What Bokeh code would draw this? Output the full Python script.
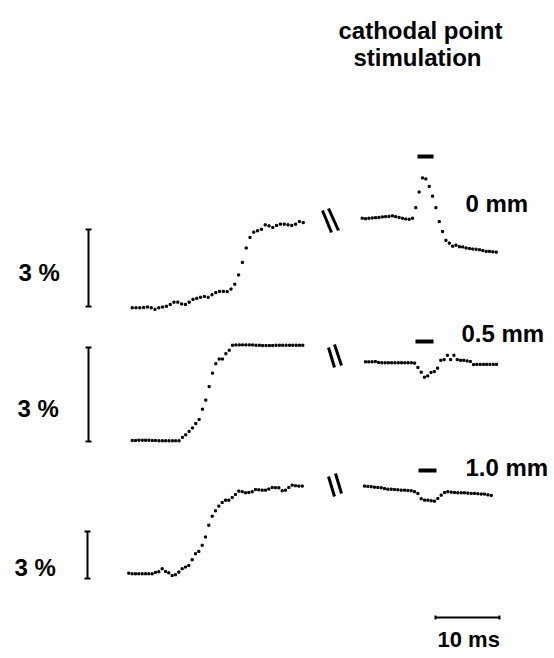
import numpy as np
from bokeh.plotting import figure
from bokeh.models import Range1d
from bokeh.core.properties import value
from bokeh.embed import file_html
from bokeh.resources import INLINE

# ---------------- data (percent change) ----------------
stim_labels = ["0 mm", "0.5 mm", "1.0 mm"]
scale_pct = 3.0          # each vertical scale bar = 3 %
time_bar_ms = 10.0       # horizontal scale bar = 10 ms

top_left = [0, 0, 0, 0.01, 0.03, 0, -0.06, 0, 0.03, 0.06, 0.13, 0.22, 0.22, 0.15, 0.13,
            0.22, 0.33, 0.37, 0.41, 0.44, 0.41, 0.51, 0.59, 0.64, 0.64, 0.63, 0.73, 0.92,
            1.28, 1.77, 2.33, 2.74, 2.95, 3.0, 3.06, 3.23, 3.19, 3.13, 3.21, 3.26, 3.26,
            3.23, 3.21, 3.26, 3.36, 3.32]
top_right = [3.49, 3.47, 3.49, 3.50, 3.51, 3.52, 3.54, 3.55, 3.56, 3.58, 3.55, 3.52, 3.49,
             3.46, 3.45, 3.49, 3.90, 4.51, 5.06, 5.02, 4.73, 4.35, 3.90, 3.36, 2.97, 2.63,
             2.52, 2.40, 2.44, 2.38, 2.37, 2.33, 2.31, 2.29, 2.28, 2.26, 2.23, 2.20, 2.20,
             2.18, 2.17]
mid_left = [0, 0, 0.01, 0.01, 0.01, 0.01, 0, 0, -0.01, -0.01, -0.01, -0.01, -0.01, -0.01,
            -0.01, 0.10, 0.18, 0.29, 0.40, 0.54, 0.67, 1.0, 1.29, 1.72, 2.15, 2.45, 2.60,
            2.60, 2.77, 2.88, 3.04, 3.05, 3.05, 3.05, 3.05, 3.05, 3.05, 3.04, 3.04, 3.03,
            3.03, 3.03, 3.03, 3.04, 3.04, 3.04, 3.04, 3.04, 3.04, 3.04, 3.04, 3.04]
mid_right = [2.51, 2.51, 2.51, 2.52, 2.49, 2.48, 2.48, 2.48, 2.48, 2.48, 2.48, 2.48, 2.48,
             2.48, 2.48, 2.47, 2.33, 2.18, 2.02, 2.06, 2.17, 2.20, 2.31, 2.56, 2.58, 2.72,
             2.58, 2.72, 2.58, 2.56, 2.56, 2.54, 2.52, 2.42, 2.43, 2.43, 2.43, 2.43, 2.43,
             2.43, 2.43]
bot_left = [0.04, 0, 0, 0, 0, 0, 0, 0, 0.09, 0.13, 0.32, 0.15, 0.06, -0.11, -0.06, 0.11,
            0.32, 0.43, 0.53, 0.90, 1.28, 1.43, 1.82, 2.35, 3.10, 3.68, 4.02, 4.32, 4.55,
            4.70, 4.70, 4.87, 5.06, 5.28, 5.24, 5.17, 5.19, 5.24, 5.38, 5.36, 5.34, 5.34,
            5.41, 5.51, 5.49, 5.49, 5.30, 5.34, 5.51, 5.66, 5.62, 5.60, 5.60]
bot_right = [5.60, 5.58, 5.56, 5.53, 5.51, 5.49, 5.44, 5.40, 5.40, 5.38, 5.36, 5.34, 5.34,
             5.32, 5.30, 5.24, 5.13, 4.79, 4.70, 4.70, 4.66, 4.64, 4.81, 5.02, 5.19, 5.24,
             5.21, 5.19, 5.17, 5.17, 5.17, 5.15, 5.13, 5.13, 5.11, 5.09, 5.09, 5.04, 5.00]

# ---------------- layout (screen-pixel coordinates) ----------------
PX_PER_MS = 6.4
rows = [
    dict(left=top_left, right=top_right, base=307.3, bar_px=77, bar_bottom=306, bar_x=88,
         lx=(131.7, 302.7), rx=(361.7, 495.7), label_xy=(18, 272), stim=(417, 433, 156),
         mm_xy=(465, 203), brk=[(322, 210, 331, 232), (328, 208, 338, 230)]),
    dict(left=mid_left, right=mid_right, base=440.0, bar_px=94, bar_bottom=441, bar_x=88,
         lx=(131.7, 302.3), rx=(365.0, 496.0), label_xy=(17, 408), stim=(415, 433, 341),
         mm_xy=(461, 333), brk=[(328, 347, 334, 367), (334, 344, 341, 365)]),
    dict(left=bot_left, right=bot_right, base=573.3, bar_px=47, bar_bottom=578, bar_x=87,
         lx=(128.3, 301.7), rx=(364.0, 490.7), label_xy=(14, 567), stim=(418, 436, 470),
         mm_xy=(465, 467), brk=[(328, 476, 334, 496), (335, 473, 341, 493)]),
]

FONT = value("Liberation Sans")

p = figure(width=554, height=658, x_range=Range1d(0, 554), y_range=Range1d(658, 0),
           output_backend="svg", toolbar_location=None, min_border=0,
           x_axis_location=None, y_axis_location=None)
p.grid.visible = False
p.outline_line_color = None
p.background_fill_color = "white"
p.border_fill_color = "white"

for r, lab in zip(rows, stim_labels):
    gain = r["bar_px"] / scale_pct
    for key, xr in (("left", r["lx"]), ("right", r["rx"])):
        vals = np.array(r[key], dtype=float)
        xs = np.linspace(xr[0], xr[1], len(vals))
        ys = r["base"] - vals * gain
        p.scatter(xs, ys, marker="square", size=2.1, color="black")
    # vertical scale bar (3 %)
    bx, bb = r["bar_x"], r["bar_bottom"]
    bt = bb - scale_pct * gain
    p.segment(x0=[bx], y0=[bb], x1=[bx], y1=[bt], line_width=2, color="black")
    p.segment(x0=[bx - 3, bx - 3], y0=[bb, bt], x1=[bx + 3, bx + 3], y1=[bb, bt],
              line_width=2, color="black")
    p.text(x=[r["label_xy"][0]], y=[r["label_xy"][1]], text=["3 %"], text_font=FONT,
           text_font_style="bold", text_font_size="24px", text_baseline="alphabetic",
           text_color="black")
    # stimulus bar
    s0, s1, sy = r["stim"]
    p.segment(x0=[s0], y0=[sy], x1=[s1], y1=[sy], line_width=4, color="black")
    # distance label
    p.text(x=[r["mm_xy"][0]], y=[r["mm_xy"][1]], text=[lab], text_font=FONT,
           text_font_style="bold", text_font_size="24px", text_baseline="alphabetic",
           text_color="black")
    # axis break marks
    for (a, b, c, d) in r["brk"]:
        p.segment(x0=[a], y0=[b], x1=[c], y1=[d], line_width=3, color="black")

# title
p.text(x=[338, 353], y=[30, 57], text=["cathodal point", "stimulation"], text_font=FONT,
       text_font_style="bold", text_font_size="24px", text_baseline="alphabetic",
       text_color="black")

# time scale bar
tx0, ty = 435, 617
tx1 = tx0 + time_bar_ms * PX_PER_MS
p.segment(x0=[tx0], y0=[ty], x1=[tx1], y1=[ty], line_width=2, color="black")
p.segment(x0=[tx0, tx1], y0=[ty - 2, ty - 2], x1=[tx0, tx1], y1=[ty + 2, ty + 2],
          line_width=2, color="black")
p.text(x=[437], y=[639], text=["10 ms"], text_font=FONT, text_font_style="bold",
       text_font_size="22px", text_baseline="alphabetic", text_color="black")

open("out.html", "w").write(file_html(p, INLINE))
